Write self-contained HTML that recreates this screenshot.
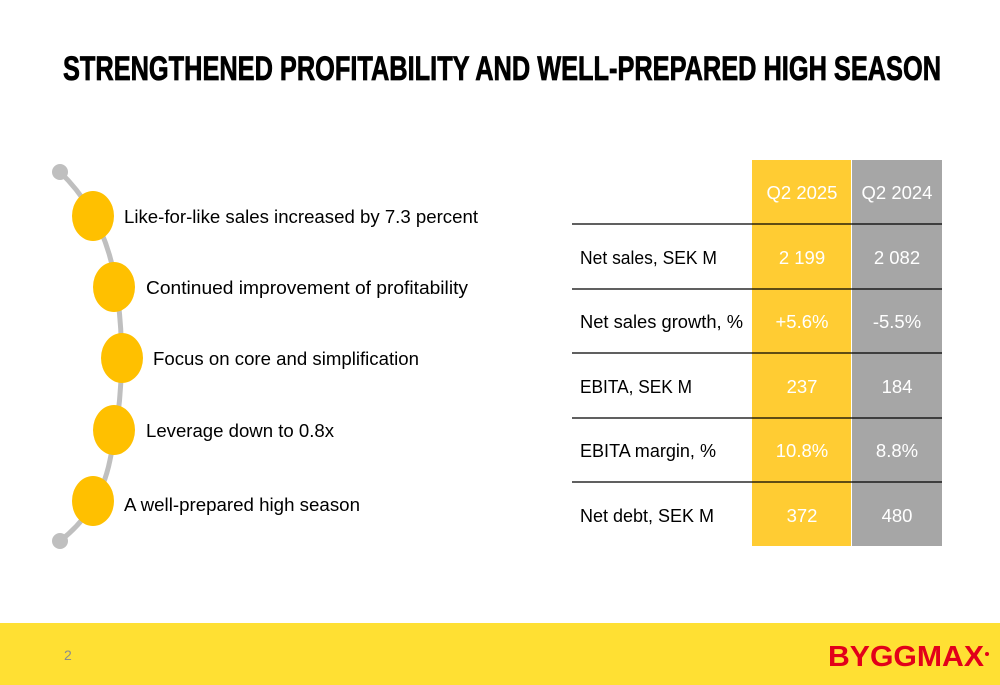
<!DOCTYPE html>
<html><head><meta charset="utf-8"><style>
html,body{margin:0;padding:0;background:#fff;width:1000px;height:685px;overflow:hidden}
text{font-family:"Liberation Sans",sans-serif}
</style></head><body>
<svg width="1000" height="685" viewBox="0 0 1000 685">
<text x="502" y="80" text-anchor="middle" font-size="34" font-weight="bold" textLength="878" lengthAdjust="spacingAndGlyphs" fill="#000" stroke="#000" stroke-width="0.8">STRENGTHENED PROFITABILITY AND WELL-PREPARED HIGH SEASON</text>

<g>
<path d="M60,172 Q110,220 118,300 Q128,380 110,460 Q100,510 60,541" fill="none" stroke="#bfbfbf" stroke-width="5"/>
<circle cx="60" cy="172" r="8" fill="#bfbfbf"/>
<circle cx="60" cy="541" r="8" fill="#bfbfbf"/>
<ellipse cx="93" cy="216" rx="21" ry="25" fill="#ffc000"/>
<ellipse cx="114" cy="287" rx="21" ry="25" fill="#ffc000"/>
<ellipse cx="122" cy="358" rx="21" ry="25" fill="#ffc000"/>
<ellipse cx="114" cy="430" rx="21" ry="25" fill="#ffc000"/>
<ellipse cx="93" cy="501" rx="21" ry="25" fill="#ffc000"/>
</g>
<g font-size="18.5" fill="#000">
<text x="124" y="223" textLength="354" lengthAdjust="spacingAndGlyphs">Like-for-like sales increased by 7.3 percent</text>
<text x="146" y="294" textLength="322" lengthAdjust="spacingAndGlyphs">Continued improvement of profitability</text>
<text x="153" y="365" textLength="266" lengthAdjust="spacingAndGlyphs">Focus on core and simplification</text>
<text x="146" y="437" textLength="188" lengthAdjust="spacingAndGlyphs">Leverage down to 0.8x</text>
<text x="124" y="511" textLength="236" lengthAdjust="spacingAndGlyphs">A well-prepared high season</text>
</g>

<g>
<rect x="752" y="160" width="99" height="386" fill="#ffcc33"/>
<rect x="852" y="160" width="90" height="386" fill="#a6a6a6"/>
<g stroke="#000" stroke-width="1.3">
<line x1="572" y1="224" x2="942" y2="224"/>
<line x1="572" y1="289" x2="942" y2="289"/>
<line x1="572" y1="353" x2="942" y2="353"/>
<line x1="572" y1="418" x2="942" y2="418"/>
<line x1="572" y1="482" x2="942" y2="482"/>
</g>
<g font-size="18.5" fill="#fff" text-anchor="middle">
<text x="802" y="199">Q2 2025</text><text x="897" y="199">Q2 2024</text>
<text x="802" y="264">2 199</text><text x="897" y="264">2 082</text>
<text x="802" y="328">+5.6%</text><text x="897" y="328">-5.5%</text>
<text x="802" y="393">237</text><text x="897" y="393">184</text>
<text x="802" y="457">10.8%</text><text x="897" y="457">8.8%</text>
<text x="802" y="522">372</text><text x="897" y="522">480</text>
</g>
<g font-size="18.5" fill="#000">
<text x="580" y="264" textLength="137" lengthAdjust="spacingAndGlyphs">Net sales, SEK M</text>
<text x="580" y="328" textLength="163" lengthAdjust="spacingAndGlyphs">Net sales growth, %</text>
<text x="580" y="393" textLength="112" lengthAdjust="spacingAndGlyphs">EBITA, SEK M</text>
<text x="580" y="457" textLength="136" lengthAdjust="spacingAndGlyphs">EBITA margin, %</text>
<text x="580" y="522" textLength="134" lengthAdjust="spacingAndGlyphs">Net debt, SEK M</text>
</g>
</g>

<rect x="0" y="623" width="1000" height="62" fill="#ffe033"/>
<text x="64" y="660" font-size="14" fill="#8c8c8c">2</text>
<text x="828" y="666" font-size="29" font-weight="bold" fill="#e2001a" textLength="156" lengthAdjust="spacingAndGlyphs">BYGGMAX</text>
<circle cx="987" cy="654" r="2" fill="#e2001a"/>
</svg>
</body></html>
